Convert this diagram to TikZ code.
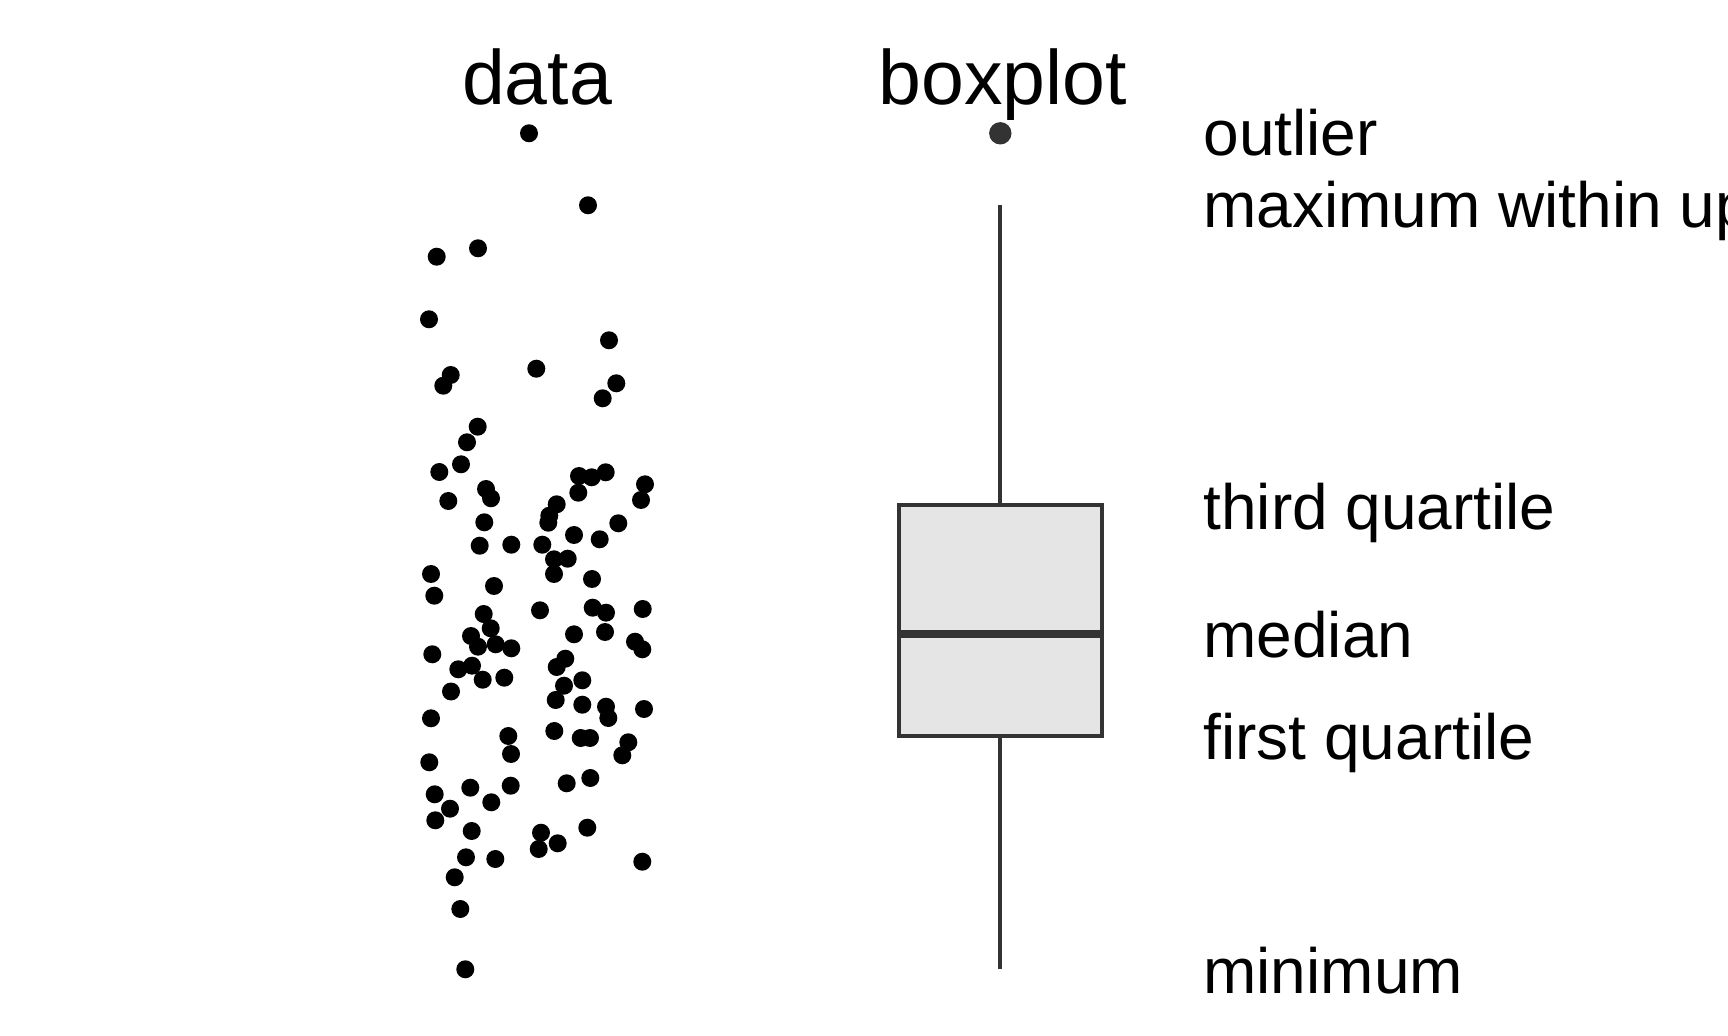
\documentclass[tikz,border=0pt]{standalone}
\usepackage{fontspec}
\setmainfont{Liberation Sans}
\definecolor{boxline}{HTML}{333333}
\definecolor{boxfill}{HTML}{E5E5E5}

\begin{document}
\begin{tikzpicture}[x=0.5pt,y=-0.5pt,
	title/.style={anchor=base,inner sep=0pt,font=\fontsize{38.5}{46}\selectfont},
	lab/.style={anchor=base west,inner sep=0pt,font=\fontsize{32}{38}\selectfont}]
	\useasboundingbox (0,0) rectangle (1728,1036);
	\clip (0,0) rectangle (1728,1036);
	
	\node[title] (tdata) at (537,105) {data};
	\node[title] (tbox) at (1003,105) {boxplot};
	
	% raw data
	\foreach \x/\y in {529/133.3,588/205.3,478/248.3,436.7/256.7,429/319.3,609/340.3,
		536.3/368.7,450.7/375,443.3/385.7,616.3/383.3,602.7/398.3,477.7/426.7,
		467/442.3,461/464.3,439.3/472,448.3/501,486/489,491/498.3,484.3/522.3,
		479.7/545.7,511.3/544.7,542.3/544.7,579/476,591.7/477.3,605.7/472.3,
		578.3/492.7,556.7/504.3,549.3/515.7,548.3/522.7,574/535,599.7/539.3,
		618.3/523.3,645/484.3,641/500,554/559.3,567.7/558.7,554/574,592/579,
		431/574,434.3/595.7,494/586,483.7/614,490.7/628.3,471/636,478/646.7,
		495.7/644.3,511.3/648.3,540/610.3,592.7/607.7,606/612.7,642.7/609,
		574/634.3,605/632,635/641.7,642.3/649.3,432.3/654.3,458.3/669.3,
		472/665.7,482.7/679.7,504.3/677.7,451/691.5,565.3/658.7,556.7/667,
		582.3/680.3,564/685.7,555.7/700,582.3/704.7,606/706.7,608.3/718,
		644/709,431/718.3,554.3/731,508.3/736,511/754,580.7/738,590/738,
		628.3/742.3,622.3/755.3,429.3/762.3,566.7/783.3,590.3/778,510.7/785.7,
		470.3/787.7,434.7/794.3,491.3/802.3,450/808.7,435.3/820.3,471.7/831,
		541/832.7,557.7/843.3,538.7/849,587.3/827.7,466/857.3,495.3/859,
		642.3/861.7,454.7/877.3,460.3/909,465.3/969.3}{
		\fill (\x,\y) circle[radius=9];}
	
	% boxplot
	\coordinate (wtop) at (1000.3,205.3);
	\coordinate (q3) at (1000.3,504.7);
	\coordinate (q1) at (1000.3,736);
	\coordinate (wbot) at (1000.3,969.3);
	\coordinate (boxsw) at (898.7,736);
	\coordinate (boxne) at (1102,504.7);
	\coordinate (medl) at (898.7,634);
	\coordinate (medr) at (1102,634);
	
	\draw[boxline,line width=2pt] (q3) -- (wtop);
	\draw[boxline,line width=2pt] (q1) -- (wbot);
	\filldraw[fill=boxfill,draw=boxline,line width=2pt] (boxsw) rectangle (boxne);
	\draw[boxline,line width=3.65pt] (medl) -- (medr);
	\fill[boxline] (1000.3,133.3) circle[radius=11.2];
	
	\node[lab] (lout) at (1203,156) {outlier};
	\node[lab] (lmax) at (1203,228) {maximum within up};
	\node[lab] (lq3) at (1203,529.3) {third quartile};
	\node[lab] (lmed) at (1203,657.7) {median};
	\node[lab] (lq1) at (1203,759.3) {first quartile};
	\node[lab] (lmin) at (1203,993.3) {minimum};
\end{tikzpicture}
\end{document}
